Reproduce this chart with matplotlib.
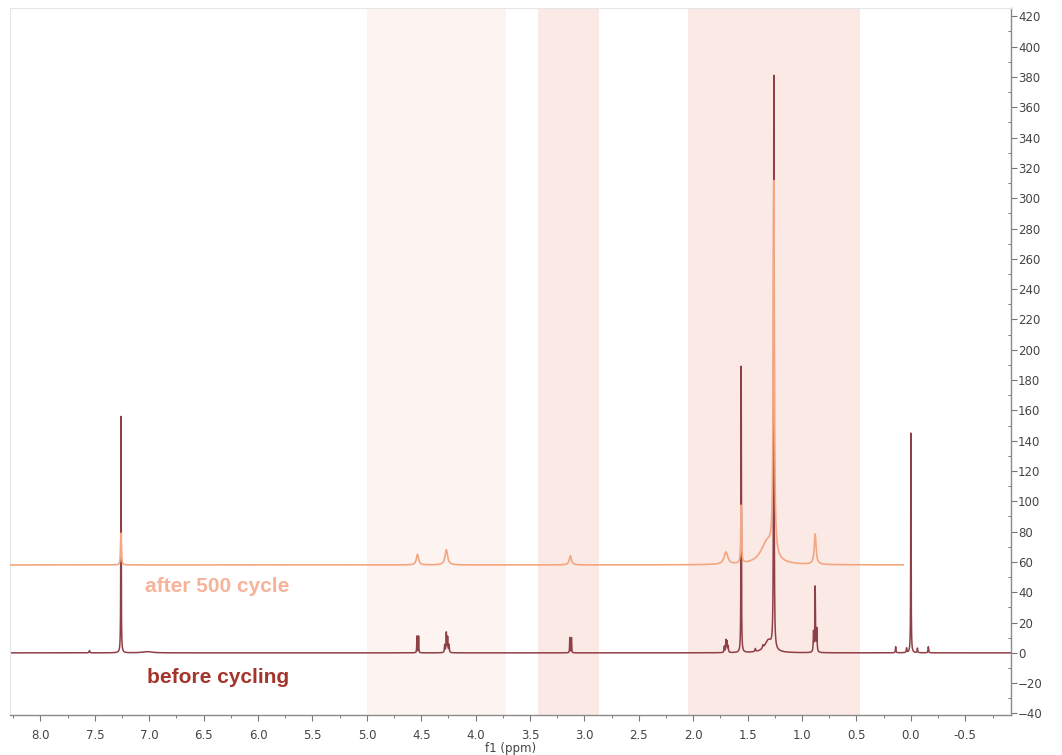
import numpy as np
import matplotlib
matplotlib.use("Agg")
import matplotlib.pyplot as plt
from matplotlib.ticker import MultipleLocator, FormatStrFormatter

# Peak tables (chemical shift in ppm, intensity, half width at half maximum in ppm)
before_ppm = [7.55, 7.26, 7.02, 4.540, 4.525, 4.285, 4.270, 4.258, 4.245,
              3.135, 3.120, 1.715, 1.700, 1.690, 1.680, 1.560, 1.430, 1.360,
              1.310, 1.260, 0.895, 0.880, 0.865, 0.140, 0.040, 0.000, -0.060, -0.160]
before_int = [1.5, 156, 0.8, 11, 11, 5, 13, 10, 5,
              10, 10, 4, 8, 7, 4, 189, 2, 2,
              8, 378, 13, 43, 15, 4, 3, 145, 3, 4]
before_hw = [0.004, 0.002, 0.05, 0.002, 0.002, 0.003, 0.003, 0.003, 0.003,
             0.002, 0.002, 0.003, 0.003, 0.003, 0.003, 0.002, 0.004, 0.005,
             0.04, 0.0025, 0.003, 0.003, 0.003, 0.003, 0.003, 0.002, 0.003, 0.003]

after_ppm = [7.26, 4.535, 4.27, 3.13, 1.70, 1.56, 1.32, 1.26, 0.88]
after_int = [21, 7, 10, 6, 8, 38, 15, 245, 20]
after_hw = [0.004, 0.012, 0.014, 0.012, 0.02, 0.004, 0.07, 0.006, 0.01]
after_offset = 58
after_end_ppm = 0.07

# Highlighted chemical shift windows (start, end, colour)
band_ranges = [(5.00, 3.72), (3.43, 2.87), (2.05, 0.47)]
band_colors = ["#fdf4f1", "#fbe9e5", "#fbe9e5"]

labels = ["after 500 cycle", "before cycling"]
label_colors = ["#f6b39a", "#a3352b"]

x_left, x_right = 8.28, -0.92
y_low, y_high = -41, 425.5


def lorentz_sum(x, centres, heights, widths):
    y = np.zeros_like(x)
    for c, h, w in zip(centres, heights, widths):
        y += h * w ** 2 / ((x - c) ** 2 + w ** 2)
    return y


ppm = np.linspace(x_left, x_right, 60000)
before = lorentz_sum(ppm, before_ppm, before_int, before_hw)
ppm_after = ppm[ppm >= after_end_ppm]
after = after_offset + lorentz_sum(ppm_after, after_ppm, after_int, after_hw)

fig = plt.figure(figsize=(10.62, 7.55), dpi=100)
ax = fig.add_axes([10 / 1062, 40 / 755, 1001 / 1062, 707 / 755])

for (a, b), col in zip(band_ranges, band_colors):
    ax.axvspan(a, b, color=col, lw=0, zorder=0)

ax.plot(ppm, before, color="#8f3f46", lw=1.1, zorder=2)
ax.plot(ppm_after, after, color="#f4a67f", lw=1.2, zorder=3)

ax.text(7.04, 44, labels[0], color=label_colors[0], fontsize=15,
        fontweight="bold", family="Liberation Sans", va="center", ha="left")
ax.text(7.02, -16, labels[1], color=label_colors[1], fontsize=15,
        fontweight="bold", family="Liberation Sans", va="center", ha="left")

ax.set_xlim(x_left, x_right)
ax.set_ylim(y_low, y_high)

ax.xaxis.set_major_locator(MultipleLocator(0.5))
ax.xaxis.set_minor_locator(MultipleLocator(0.25))
ax.xaxis.set_major_formatter(FormatStrFormatter("%.1f"))
ax.yaxis.set_major_locator(MultipleLocator(20))
ax.yaxis.set_minor_locator(MultipleLocator(10))

ax.yaxis.tick_right()
ax.tick_params(axis="x", which="major", direction="out", length=4, width=0.8,
               color="#777777", labelsize=8.5, labelcolor="#444444", pad=6)
ax.tick_params(axis="x", which="minor", direction="out", length=2.5, width=0.7,
               color="#777777")
ax.tick_params(axis="y", which="major", direction="out", length=4, width=0.8,
               color="#777777", labelsize=8.5, labelcolor="#444444", pad=1)
ax.tick_params(axis="y", which="minor", direction="in", length=2.5, width=0.7,
               color="#777777")

ax.set_xlabel("f1 (ppm)", fontsize=8.5, color="#444444", labelpad=0)

for side in ("bottom", "right"):
    ax.spines[side].set_color("#8a8a8a")
    ax.spines[side].set_linewidth(1.0)
for side in ("left", "top"):
    ax.spines[side].set_color("#e6e6e6")
    ax.spines[side].set_linewidth(0.8)

fig.savefig("out.png", dpi=100)
